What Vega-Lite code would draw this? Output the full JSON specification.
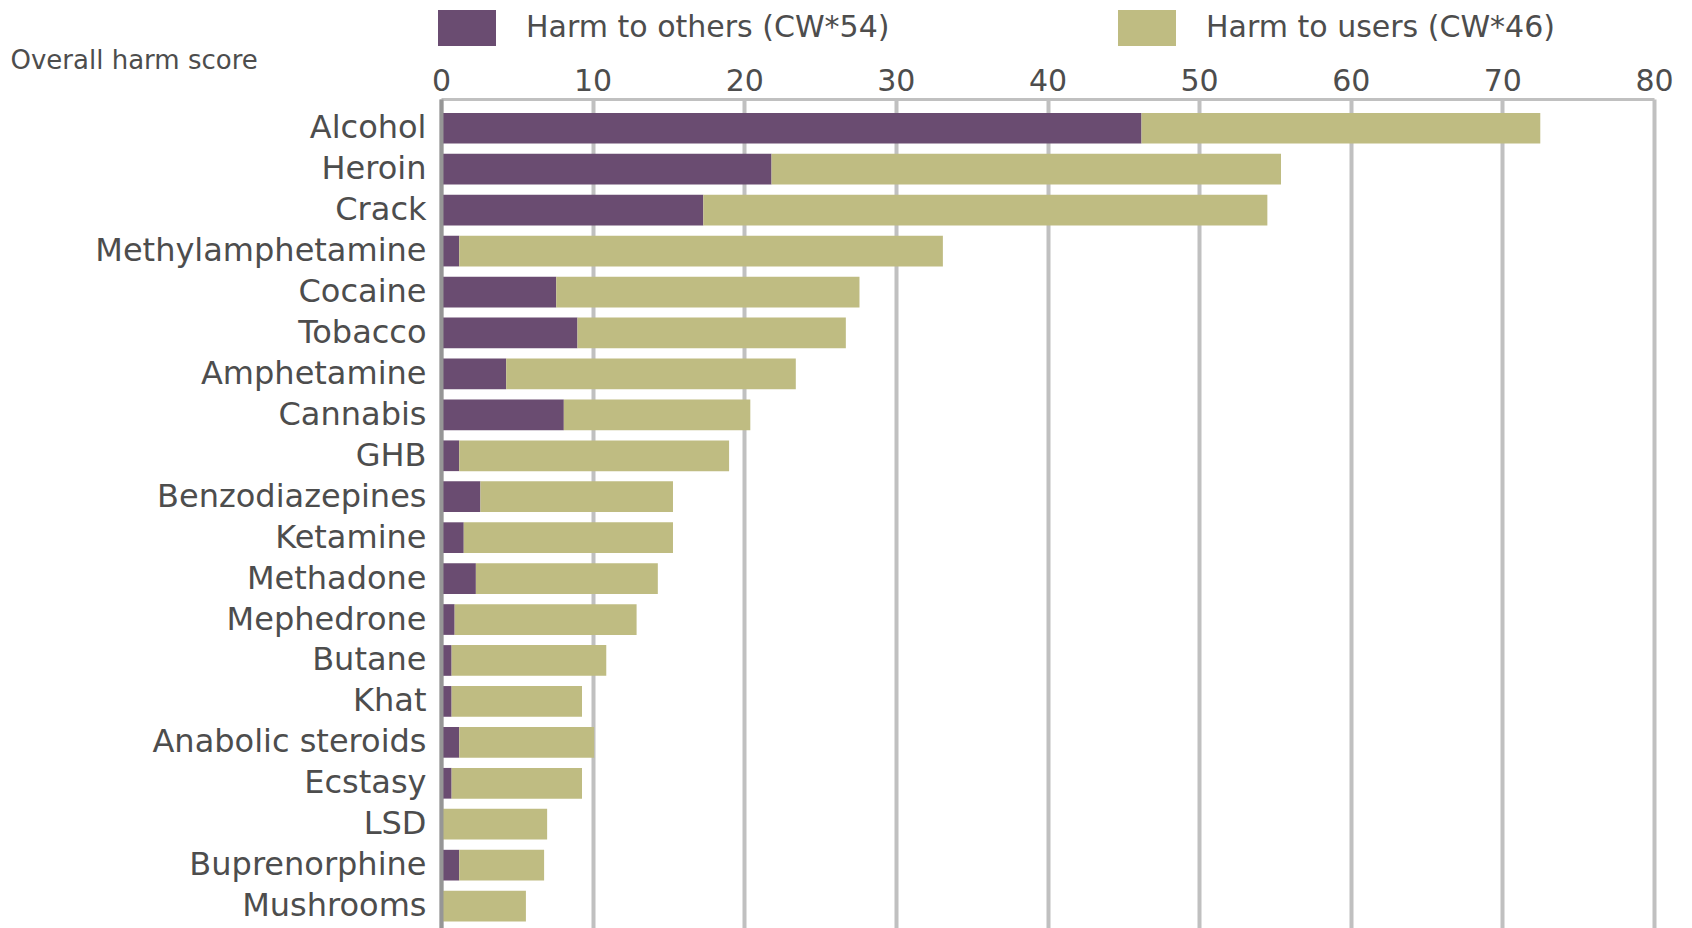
{
  "$schema": "https://vega.github.io/schema/vega-lite/v6.json",
  "autosize": "none",
  "width": 1213,
  "height": 829,
  "padding": {"left": 441, "top": 99, "right": 38, "bottom": 0},
  "background": "white",
  "config": {
    "view": {"stroke": null},
    "font": "DejaVu Sans"
  },
  "data": {
    "values": [
      {"drug": "Alcohol", "harm": "Harm to others (CW*54)", "score": 46.2},
      {"drug": "Alcohol", "harm": "Harm to users (CW*46)", "score": 26.3},
      {"drug": "Heroin", "harm": "Harm to others (CW*54)", "score": 21.8},
      {"drug": "Heroin", "harm": "Harm to users (CW*46)", "score": 33.6},
      {"drug": "Crack", "harm": "Harm to others (CW*54)", "score": 17.3},
      {"drug": "Crack", "harm": "Harm to users (CW*46)", "score": 37.2},
      {"drug": "Methylamphetamine", "harm": "Harm to others (CW*54)", "score": 1.2},
      {"drug": "Methylamphetamine", "harm": "Harm to users (CW*46)", "score": 31.9},
      {"drug": "Cocaine", "harm": "Harm to others (CW*54)", "score": 7.6},
      {"drug": "Cocaine", "harm": "Harm to users (CW*46)", "score": 20.0},
      {"drug": "Tobacco", "harm": "Harm to others (CW*54)", "score": 9.0},
      {"drug": "Tobacco", "harm": "Harm to users (CW*46)", "score": 17.7},
      {"drug": "Amphetamine", "harm": "Harm to others (CW*54)", "score": 4.3},
      {"drug": "Amphetamine", "harm": "Harm to users (CW*46)", "score": 19.1},
      {"drug": "Cannabis", "harm": "Harm to others (CW*54)", "score": 8.1},
      {"drug": "Cannabis", "harm": "Harm to users (CW*46)", "score": 12.3},
      {"drug": "GHB", "harm": "Harm to others (CW*54)", "score": 1.2},
      {"drug": "GHB", "harm": "Harm to users (CW*46)", "score": 17.8},
      {"drug": "Benzodiazepines", "harm": "Harm to others (CW*54)", "score": 2.6},
      {"drug": "Benzodiazepines", "harm": "Harm to users (CW*46)", "score": 12.7},
      {"drug": "Ketamine", "harm": "Harm to others (CW*54)", "score": 1.5},
      {"drug": "Ketamine", "harm": "Harm to users (CW*46)", "score": 13.8},
      {"drug": "Methadone", "harm": "Harm to others (CW*54)", "score": 2.3},
      {"drug": "Methadone", "harm": "Harm to users (CW*46)", "score": 12.0},
      {"drug": "Mephedrone", "harm": "Harm to others (CW*54)", "score": 0.9},
      {"drug": "Mephedrone", "harm": "Harm to users (CW*46)", "score": 12.0},
      {"drug": "Butane", "harm": "Harm to others (CW*54)", "score": 0.7},
      {"drug": "Butane", "harm": "Harm to users (CW*46)", "score": 10.2},
      {"drug": "Khat", "harm": "Harm to others (CW*54)", "score": 0.7},
      {"drug": "Khat", "harm": "Harm to users (CW*46)", "score": 8.6},
      {"drug": "Anabolic steroids", "harm": "Harm to others (CW*54)", "score": 1.2},
      {"drug": "Anabolic steroids", "harm": "Harm to users (CW*46)", "score": 8.9},
      {"drug": "Ecstasy", "harm": "Harm to others (CW*54)", "score": 0.7},
      {"drug": "Ecstasy", "harm": "Harm to users (CW*46)", "score": 8.6},
      {"drug": "LSD", "harm": "Harm to others (CW*54)", "score": 0},
      {"drug": "LSD", "harm": "Harm to users (CW*46)", "score": 7.0},
      {"drug": "Buprenorphine", "harm": "Harm to others (CW*54)", "score": 1.2},
      {"drug": "Buprenorphine", "harm": "Harm to users (CW*46)", "score": 5.6},
      {"drug": "Mushrooms", "harm": "Harm to others (CW*54)", "score": 0},
      {"drug": "Mushrooms", "harm": "Harm to users (CW*46)", "score": 5.6}
    ]
  },
  "mark": {"type": "bar", "strokeWidth": 0},
  "encoding": {
    "y": {
      "field": "drug",
      "type": "nominal",
      "sort": null,
      "scale": {"paddingInner": 0.25, "paddingOuter": 0.25, "align": 0.68},
      "axis": {
        "title": null,
        "ticks": false,
        "domain": true,
        "domainColor": "#969696",
        "domainWidth": 4,
        "labelFont": "DejaVu Sans",
        "labelFontSize": 32,
        "labelColor": "#4d4d4d",
        "labelPadding": 15,
        "labelLimit": 600,
        "zindex": 1
      }
    },
    "x": {
      "field": "score",
      "type": "quantitative",
      "stack": "zero",
      "scale": {"domain": [0, 80], "nice": false, "zero": true},
      "axis": {
        "orient": "top",
        "values": [0, 10, 20, 30, 40, 50, 60, 70, 80],
        "ticks": false,
        "domain": true,
        "domainColor": "#c0c0c0",
        "domainWidth": 3,
        "grid": true,
        "gridColor": "#c0c0c0",
        "gridWidth": 4,
        "gridOpacity": 1,
        "labelFont": "DejaVu Sans",
        "labelFontSize": 30,
        "labelColor": "#4d4d4d",
        "labelBaseline": "alphabetic",
        "labelPadding": 9,
        "labelFlush": false,
        "labelOverlap": false,
        "title": "Overall harm score",
        "titleFont": "DejaVu Sans",
        "titleFontSize": 26,
        "titleFontWeight": "normal",
        "titleColor": "#4d4d4d",
        "titleX": -431,
        "titleY": -39,
        "titleAlign": "left",
        "titleAnchor": "start",
        "titleBaseline": "middle",
        "titleAngle": 0,
        "zindex": 0
      }
    },
    "color": {
      "field": "harm",
      "type": "nominal",
      "scale": {
        "domain": ["Harm to others (CW*54)", "Harm to users (CW*46)"],
        "range": ["#6a4c71", "#bfbc82"]
      },
      "legend": {
        "title": null,
        "orient": "none",
        "legendX": -3,
        "legendY": -100,
        "direction": "horizontal",
        "columns": 2,
        "columnPadding": 228,
        "padding": 0,
        "symbolType": "M-1,-0.62H1V0.62H-1Z",
        "symbolSize": 3364,
        "symbolStrokeWidth": 0,
        "symbolOpacity": 1,
        "labelOffset": 30,
        "labelFont": "DejaVu Sans",
        "labelFontSize": 30,
        "labelColor": "#4d4d4d",
        "labelLimit": 700
      }
    }
  }
}
